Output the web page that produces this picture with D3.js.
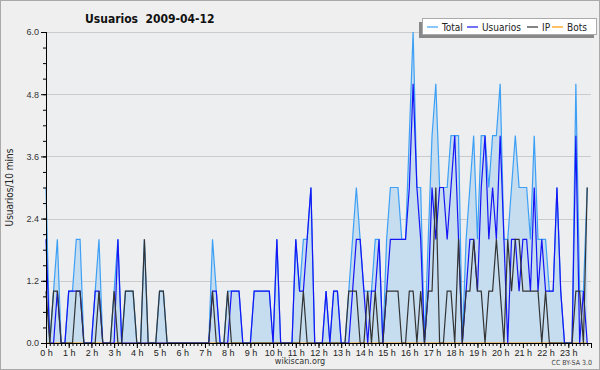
<!DOCTYPE html>
<html>
<head>
<meta charset="utf-8">
<script src="https://cdn.jsdelivr.net/npm/d3@7"></script>
<style>
  body { margin: 0; background: #fff; }
  svg { display: block; font-family: "DejaVu Sans Condensed", "DejaVu Sans", sans-serif; }
</style>
</head>
<body>
<div id="chart"></div>
<script>
// 10-minute slots, 0h .. 23h50
var total    = [3,0,1,2,0,0,1,1,2,2, 0,0,0,1,2,0,0,0,1,2, 0,1,1,1,0,0,2,0,0,0,
                1,1,0,0,0,0,0,0,0,0, 0,0,0,0,2,1,0,0,1,1, 1,1,0,0,0,1,1,1,1,1,
                0,2,0,0,0,0,2,1,2,2, 3,0,0,0,1,0,1,1,0,0, 1,2,3,2,1,1,1,2,2,0,
                2,3,3,3,2,2,4,6,3,3, 0,2,4,5,3,3,3,4,4,4, 0,2,3,4,2,4,4,3,4,4,
                5,2,2,3,4,3,3,3,2,4, 2,2,2,1,1,3,1,0,0,0, 5,1,1,3];
var usuarios = [2,0,0,1,0,0,1,1,1,1, 0,0,0,1,1,0,0,0,0,2, 0,0,0,0,0,0,0,0,0,0,
                0,0,0,0,0,0,0,0,0,0, 0,0,0,0,1,1,0,0,0,1, 1,1,0,0,0,1,1,1,1,1,
                0,2,0,0,0,0,2,1,1,2, 3,0,0,0,1,0,1,1,0,0, 0,1,2,2,1,0,1,1,2,0,
                1,2,2,2,2,2,3,5,3,2, 0,1,3,2,3,3,2,3,4,2, 0,1,2,2,1,3,4,2,3,2,
                4,2,0,2,2,1,2,2,1,3, 1,2,1,1,1,3,1,0,0,0, 4,0,1,0];
var ip       = [1,0,1,1,0,0,0,0,1,1, 0,0,0,0,1,0,0,0,1,0, 0,1,1,1,0,0,2,0,0,0,
                1,1,0,0,0,0,0,0,0,0, 0,0,0,0,1,0,0,0,1,0, 0,0,0,0,0,0,0,0,0,0,
                0,0,0,0,0,0,0,0,1,0, 0,0,0,0,0,0,0,0,0,0, 1,1,1,0,0,1,0,1,0,0,
                1,1,1,1,0,0,1,1,0,1, 0,1,1,3,0,0,1,1,0,2, 0,1,1,2,1,1,0,1,1,2,
                1,0,2,1,2,2,1,1,1,1, 1,0,1,0,0,0,0,0,0,0, 1,1,0,3];
var bots     = d3.range(144).map(function() { return 0; });

var hourLabels = d3.range(24).map(function(h) { return h + " h"; });
var yTicks = [0, 1.2, 2.4, 3.6, 4.8, 6.0];

var W = 600, H = 370;
var margin = {top: 32, right: 9, bottom: 27, left: 46};

var svg = d3.select("#chart")
  .append("svg")
  .attr("width", W)
  .attr("height", H);

// background + frame
svg.append("rect")
  .attr("x", 0.5).attr("y", 0.5)
  .attr("width", W - 1).attr("height", H - 1)
  .attr("fill", "#efefef")
  .attr("stroke", "#a9a9a9");

var x = d3.scaleLinear().domain([0, 144]).range([margin.left, W - margin.right]);
var y = d3.scaleLinear().domain([0, 6]).range([H - margin.bottom, margin.top]);

// plot background
svg.append("rect")
  .attr("x", x(0)).attr("y", y(6))
  .attr("width", x(144) - x(0)).attr("height", y(0) - y(6))
  .attr("fill", "#eceef0");

// grid
svg.append("g")
  .selectAll("line")
  .data(yTicks.slice(1))
  .join("line")
  .attr("x1", x(0)).attr("x2", x(144))
  .attr("y1", function(d) { return Math.round(y(d)) + 0.5; })
  .attr("y2", function(d) { return Math.round(y(d)) + 0.5; })
  .attr("stroke", "#cbcbcb");

var line = function(arr) {
  return d3.line()
    .x(function(d, i) { return x(i); })
    .y(function(d) { return y(d); })(arr);
};

// area under total
svg.append("path")
  .attr("d", d3.area()
    .x(function(d, i) { return x(i); })
    .y0(y(0))
    .y1(function(d) { return y(d); })(total))
  .attr("fill", "#c6ddf0");

svg.append("path").attr("d", line(bots)).attr("fill", "none").attr("stroke", "#ff9900").attr("stroke-width", 1.2);
svg.append("path").attr("d", line(total)).attr("fill", "none").attr("stroke", "#3da0f5").attr("stroke-width", 1.2);
svg.append("path").attr("d", line(usuarios)).attr("fill", "none").attr("stroke", "#1515f5").attr("stroke-width", 1.2);
svg.append("path").attr("d", line(ip)).attr("fill", "none").attr("stroke", "#333333").attr("stroke-width", 1.2);

// y axis
var yAxis = svg.append("g")
  .attr("transform", "translate(" + x(0) + ",0)")
  .call(d3.axisLeft(y).tickValues(d3.range(0, 6.01, 0.3)).tickSize(3).tickFormat(""));
yAxis.append("g")
  .call(d3.axisLeft(y).tickValues(yTicks).tickSize(5).tickFormat(d3.format(".1f")));
yAxis.selectAll("path").attr("stroke", "#000");
yAxis.selectAll("line").attr("stroke", "#000");
yAxis.selectAll("text").attr("font-size", 9).attr("fill", "#333").attr("dx", 1);

// x axis
var xAxis = svg.append("g")
  .attr("transform", "translate(0," + y(0) + ")")
  .call(d3.axisBottom(x).tickValues(d3.range(0, 145)).tickSize(3).tickFormat(""));
xAxis.append("g")
  .call(d3.axisBottom(x).tickValues(d3.range(0, 144, 6)).tickSize(5)
    .tickFormat(function(d) { return hourLabels[d / 6]; }));
xAxis.selectAll("path").attr("stroke", "#000");
xAxis.selectAll("line").attr("stroke", "#000");
xAxis.selectAll("text").attr("font-size", 9).attr("fill", "#222").attr("dy", "0.5em");

// titles
svg.append("text")
  .attr("x", 85).attr("y", 23)
  .attr("font-size", 12).attr("font-weight", "bold")
  .attr("fill", "#111")
  .attr("xml:space", "preserve")
  .text("Usuarios  2009-04-12");

svg.append("text")
  .attr("transform", "translate(13," + ((y(0) + y(6)) / 2) + ") rotate(-90)")
  .attr("text-anchor", "middle")
  .attr("font-size", 10)
  .attr("fill", "#222")
  .text("Usuarios/10 mins");

svg.append("text")
  .attr("x", 300).attr("y", 364)
  .attr("text-anchor", "middle")
  .attr("font-size", 9).attr("fill", "#333")
  .text("wikiscan.org");

svg.append("text")
  .attr("x", 592).attr("y", 365)
  .attr("text-anchor", "end")
  .attr("font-size", 7).attr("fill", "#444")
  .text("CC BY-SA 3.0");

// legend
var legendItems = [
  {name: "Total", color: "#3da0f5"},
  {name: "Usuarios", color: "#1515f5"},
  {name: "IP", color: "#333333"},
  {name: "Bots", color: "#ff9900"}
];
var legendX = [427, 467, 527, 552];
var lg = svg.append("g");
lg.append("rect").attr("x", 419).attr("y", 22).attr("width", 175).attr("height", 16).attr("fill", "#888");
lg.append("rect").attr("x", 422.5).attr("y", 18.5).attr("width", 174).attr("height", 16)
  .attr("fill", "#fff").attr("stroke", "#aaa");
var li = lg.selectAll("g.item").data(legendItems).join("g")
  .attr("transform", function(d, i) { return "translate(" + legendX[i] + ",27)"; });
li.append("line").attr("x1", 0).attr("x2", 11).attr("stroke", function(d) { return d.color; }).attr("stroke-width", 1.2);
li.append("text").attr("x", 15).attr("dy", "0.35em").attr("font-size", 10).attr("fill", "#222")
  .text(function(d) { return d.name; });
</script>
</body>
</html>
